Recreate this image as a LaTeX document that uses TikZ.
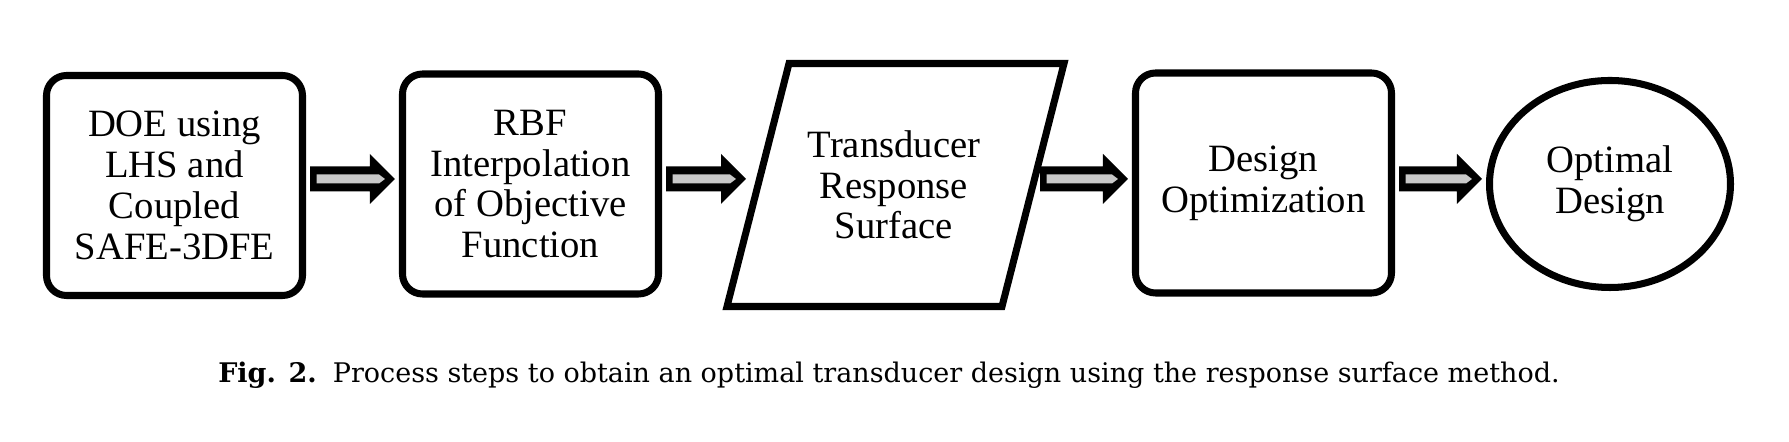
\documentclass[tikz,border=0pt]{standalone}
\usepackage{fontspec}
\setmainfont{Liberation Serif}
\newfontfamily\boxfont{Liberation Serif}
\newfontfamily\capfont{DejaVu Serif}
\usetikzlibrary{calc,shapes.geometric}
\definecolor{shaftgray}{RGB}{200,200,200}

% block arrow between two anchors, on the common axis
\newcommand{\flowarrow}[2]{%
  \coordinate (fs) at ($(#1 |- axis)+(0.04,0)$);
  \coordinate (fe) at ($(#2 |- axis)+(-0.04,0)$);
  \fill[black] ($(fs)+(0,0.125)$) -- ($(fe)+(-0.25,0.125)$) -- ++(0,0.125) -- (fe)
    -- ++(-0.25,-0.25) -- ++(0,0.125) -- ($(fs)+(0,-0.125)$) -- cycle;
  \fill[shaftgray] ($(fs)+(0.065,0.045)$) -- ($(fe)+(-0.16,0.045)$) -- ($(fe)+(-0.1,0)$)
    -- ($(fe)+(-0.16,-0.045)$) -- ($(fs)+(0.065,-0.045)$) -- cycle;
}

\begin{document}
\begin{tikzpicture}[
  procbox/.style={rectangle, draw, line width=2pt, rounded corners=0.2cm,
    minimum width=2.56cm, minimum height=2.2cm, inner sep=0pt, align=center,
    font=\boxfont\fontsize{11}{11.6}\selectfont},
  endellipse/.style={ellipse, draw, line width=2pt,
    minimum width=2.41cm, minimum height=2.07cm, inner sep=0pt, align=center,
    font=\boxfont\fontsize{11}{11.6}\selectfont},
  boxtext/.style={align=center, inner sep=0pt, font=\boxfont\fontsize{11}{11.6}\selectfont}
]
 \useasboundingbox (0,0) rectangle (17.89,4.42);

 %height of the arrows
 \coordinate (axis) at (0,2.63);

 %process boxes
 \node[procbox] (doe) at (1.745,2.565) {DOE using\\LHS and\\Coupled\\SAFE-3DFE};
 \node[procbox] (rbf) at (5.305,2.58) {RBF\\Interpolation\\of Objective\\Function};
 \node[procbox] (dop) at (12.635,2.59) {Design\\Optimization};

 %response surface (parallelogram)
 \coordinate (trs-bl) at (7.27,1.355);
 \coordinate (trs-br) at (10.02,1.355);
 \coordinate (trs-tr) at (10.64,3.785);
 \coordinate (trs-tl) at (7.89,3.785);
 \draw[line width=2pt] (trs-bl) -- (trs-br) -- (trs-tr) -- (trs-tl) -- cycle;
 \node[boxtext] (trs) at (8.94,2.57) {Transducer\\Response\\Surface};
 \coordinate (trs-in) at ($(trs-bl)!0.5!(trs-tl)+(-0.08,0)$);
 \coordinate (trs-out) at ($(trs-br)!0.5!(trs-tr)+(0.03,0)$);

 %result
 \node[endellipse] (opt) at (16.10,2.58) {Optimal\\Design};

 %arrows
 \flowarrow{doe.east}{rbf.west}
 \flowarrow{rbf.east}{trs-in}
 \flowarrow{trs-out}{dop.west}
 \flowarrow{dop.east}{opt.west}

 %caption
 \node[anchor=base, inner sep=0pt, font=\capfont\fontsize{7.68}{10}\selectfont] (caption) at (8.89,0.59)
   {\textbf{Fig. 2.}\hspace{0.6em}Process steps to obtain an optimal transducer design using the response surface method.};
\end{tikzpicture}
\end{document}
